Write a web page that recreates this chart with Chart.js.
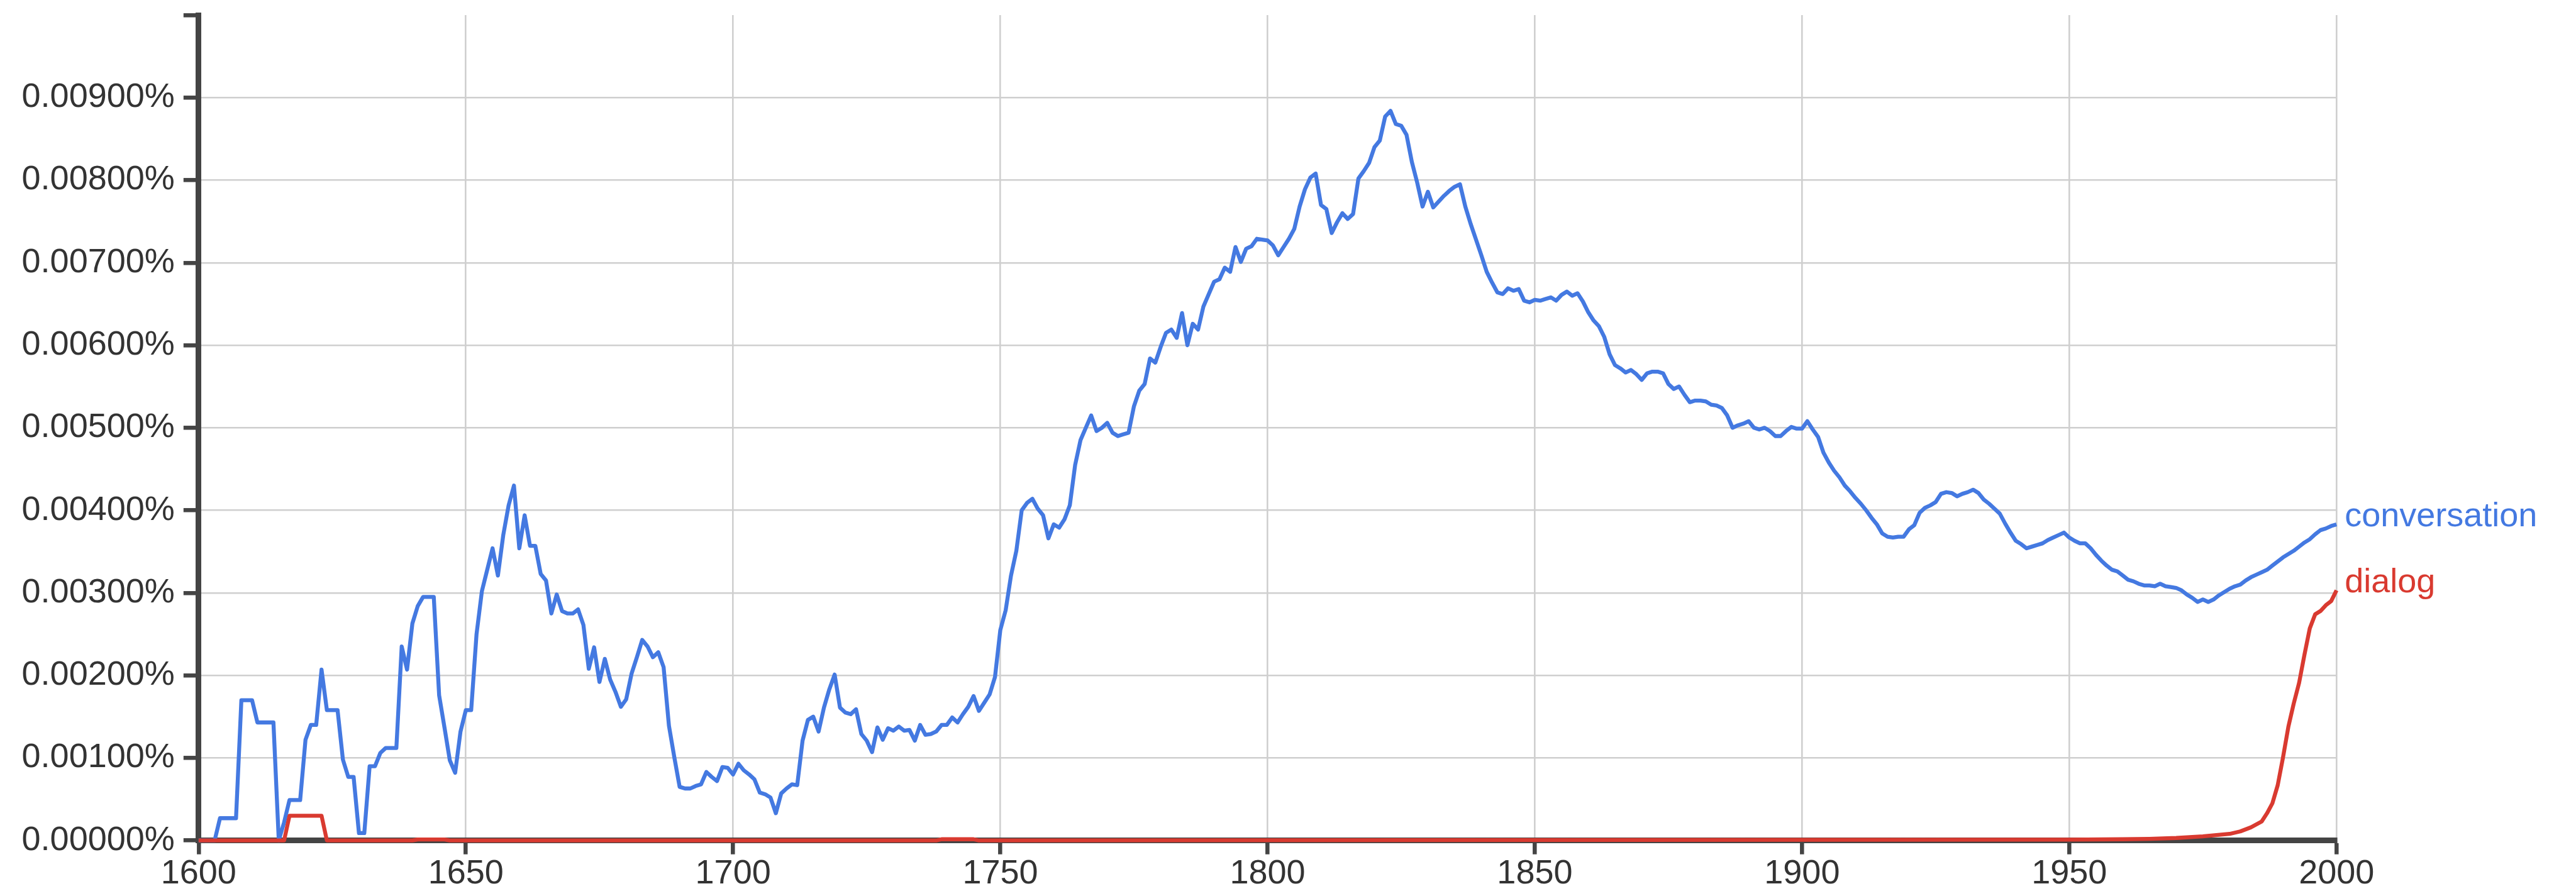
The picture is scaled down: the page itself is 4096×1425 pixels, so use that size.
<!DOCTYPE html>
<html>
<head>
<meta charset="utf-8">
<script src="https://cdn.jsdelivr.net/npm/chart.js@4.4.1/dist/chart.umd.min.js"></script>
<style>
  html, body { margin: 0; padding: 0; background: #ffffff; overflow: hidden; }
  canvas { display: block; }
</style>
</head>
<body>
<canvas id="chart" width="4096" height="1425"></canvas>
<script>
// ---------------- data ----------------
const firstYear = 1600;
const lastYear = 2000;
const conversationYears = [];
for (let y = firstYear; y <= lastYear; y++) conversationYears.push(y);

// yearly values, in percent, 1600 .. 2000
const conversationValues = [
  0, 0, 0, 0, 0.00027, 0.00027, 0.00027, 0.00027, 0.00170, 0.00170,
  0.00170, 0.00143, 0.00143, 0.00143, 0.00143, 0, 0.00022, 0.00049, 0.00049, 0.00049,
  0.00122, 0.00140, 0.00140, 0.00207, 0.00158, 0.00158, 0.00158, 0.00098, 0.00077, 0.00077,
  0.00009, 0.00009, 0.00090, 0.00090, 0.00106, 0.00112, 0.00112, 0.00112, 0.00235, 0.00207,
  0.00263, 0.00284, 0.00295, 0.00295, 0.00295, 0.00176, 0.00137, 0.00097, 0.00082, 0.00132,
  0.00158, 0.00158, 0.00250, 0.00302, 0.00328, 0.00354, 0.00321, 0.00370, 0.00406, 0.00430,
  0.00354, 0.00394, 0.00357, 0.00357, 0.00323, 0.00315, 0.00275, 0.00298, 0.00278, 0.00275,
  0.00275, 0.00280, 0.00261, 0.00208, 0.00234, 0.00192, 0.00220, 0.00195, 0.00180, 0.00162,
  0.00171, 0.00202, 0.00222, 0.00243, 0.00235, 0.00222, 0.00228, 0.00210, 0.00139, 0.00101,
  0.00065, 0.00063, 0.00063, 0.00066, 0.00068, 0.00083, 0.00077, 0.00072, 0.00089, 0.00088,
  0.00080, 0.00093, 0.00085, 0.00080, 0.00074, 0.00058, 0.00056, 0.00052, 0.00033, 0.00057,
  0.00063, 0.00068, 0.00067, 0.00121, 0.00146, 0.00150, 0.00132, 0.00161, 0.00183, 0.00201,
  0.00161, 0.00155, 0.00153, 0.00159, 0.00129, 0.00121, 0.00107, 0.00137, 0.00122, 0.00136,
  0.00133, 0.00138, 0.00133, 0.00134, 0.00121, 0.00140, 0.00128, 0.00129, 0.00132, 0.00140,
  0.00140, 0.00149, 0.00143, 0.00153, 0.00162, 0.00175, 0.00157, 0.00167, 0.00177, 0.00198,
  0.00255, 0.00279, 0.00321, 0.00351, 0.00400, 0.00409, 0.00414, 0.00402, 0.00394, 0.00366,
  0.00383, 0.00379, 0.00389, 0.00406, 0.00455, 0.00485, 0.00500, 0.00515, 0.00496, 0.00500,
  0.00506, 0.00494, 0.00490, 0.00492, 0.00494, 0.00526, 0.00545, 0.00553, 0.00584, 0.00579,
  0.00598, 0.00615, 0.00619, 0.00609, 0.00639, 0.00600, 0.00626, 0.00619, 0.00647, 0.00662,
  0.00677, 0.00680, 0.00694, 0.00689, 0.00719, 0.00701, 0.00717, 0.00720, 0.00729, 0.00728,
  0.00727, 0.00721, 0.00709, 0.00719, 0.00729, 0.00741, 0.00768, 0.00789, 0.00803, 0.00808,
  0.00770, 0.00765, 0.00736, 0.00749, 0.00760, 0.00753, 0.00759, 0.00802, 0.00811, 0.00821,
  0.00840, 0.00848, 0.00877, 0.00884, 0.00868, 0.00866, 0.00855, 0.00822, 0.00797, 0.00768,
  0.00786, 0.00767, 0.00774, 0.00781, 0.00787, 0.00792, 0.00795, 0.00768, 0.00747, 0.00728,
  0.00709, 0.00689, 0.00676, 0.00664, 0.00662, 0.00669, 0.00666, 0.00668, 0.00654, 0.00652,
  0.00655, 0.00654, 0.00656, 0.00658, 0.00654, 0.00661, 0.00665, 0.00660, 0.00663, 0.00653,
  0.00640, 0.00630, 0.00623, 0.00610, 0.00589, 0.00576, 0.00572, 0.00567, 0.00570, 0.00565,
  0.00558, 0.00566, 0.00568, 0.00568, 0.00566, 0.00553, 0.00547, 0.00550, 0.00540, 0.00531,
  0.00533, 0.00533, 0.00532, 0.00528, 0.00527, 0.00524, 0.00515, 0.00500, 0.00503, 0.00505,
  0.00508, 0.00500, 0.00498, 0.00500, 0.00496, 0.00490, 0.00490, 0.00496, 0.00501, 0.00499,
  0.00499, 0.00508, 0.00498, 0.00489, 0.00470, 0.00458, 0.00448, 0.00440, 0.00430, 0.00423,
  0.00415, 0.00408, 0.00400, 0.00391, 0.00383, 0.00372, 0.00368, 0.00367, 0.00368, 0.00368,
  0.00377, 0.00382, 0.00397, 0.00403, 0.00406, 0.00410, 0.00420, 0.00422, 0.00421, 0.00417,
  0.00420, 0.00422, 0.00425, 0.00421, 0.00413, 0.00408, 0.00402, 0.00396, 0.00384, 0.00373,
  0.00363, 0.00359, 0.00354, 0.00356, 0.00358, 0.00360, 0.00364, 0.00367, 0.00370, 0.00373,
  0.00367, 0.00363, 0.00360, 0.00360, 0.00354, 0.00346, 0.00339, 0.00333, 0.00328, 0.00326,
  0.00321, 0.00316, 0.00314, 0.00311, 0.00309, 0.00309, 0.00308, 0.00311, 0.00308, 0.00307,
  0.00306, 0.00303, 0.00298, 0.00294, 0.00289, 0.00292, 0.00289, 0.00292, 0.00297, 0.00301,
  0.00305, 0.00308, 0.00310, 0.00315, 0.00319, 0.00322, 0.00325, 0.00328, 0.00333, 0.00338,
  0.00343, 0.00347, 0.00351, 0.00356, 0.00361, 0.00365, 0.00371, 0.00376, 0.00378, 0.00381,
  0.00383
];

// "dialog": values read at the years where the line changes course (percent)
const dialogYears = [
  1600, 1616, 1617, 1623, 1624, 1640, 1641, 1646, 1647, 1738, 1739, 1745, 1746,
  1950, 1960, 1965, 1970, 1975, 1980, 1982, 1984, 1986, 1987, 1988, 1989,
  1990, 1991, 1992, 1993, 1994, 1995, 1996, 1997, 1998, 1999, 2000
];
const dialogValues = [
  0, 0, 0.00030, 0.00030, 0, 0, 0.000012, 0.000012, 0, 0, 0.000015, 0.000015, 0,
  0.00001, 0.000015, 0.00002, 0.00003, 0.00005, 0.00008, 0.00011, 0.00016, 0.00023, 0.00033, 0.00045, 0.00067,
  0.00101, 0.00138, 0.00166, 0.00191, 0.00225, 0.00257, 0.00274, 0.00278, 0.00285, 0.00290, 0.00303
];

const seriesNames = ['conversation', 'dialog'];
const seriesColors = ['#4479e1', '#d93a30'];
const xTickStep = 50;
const yTickStep = 0.001;
const yMax = 0.01;

// ---------------- chart ----------------
const FONT = "'Liberation Sans', Arial, Helvetica, sans-serif";

const endLabels = {
  id: 'endLabels',
  afterDatasetsDraw(chart) {
    const ctx = chart.ctx;
    const area = chart.chartArea;
    ctx.save();
    ctx.font = '54px ' + FONT;
    ctx.textAlign = 'left';
    ctx.textBaseline = 'middle';
    chart.data.datasets.forEach((ds, i) => {
      const meta = chart.getDatasetMeta(i);
      const pt = meta.data[meta.data.length - 1];
      ctx.fillStyle = ds.borderColor;
      ctx.fillText(ds.label, area.right + 13, pt.y - 12);
    });
    ctx.restore();
  }
};

new Chart(document.getElementById('chart'), {
  type: 'line',
  data: {
    datasets: [
      {
        label: seriesNames[1],
        data: dialogYears.map((x, i) => ({ x, y: dialogValues[i] })),
        borderColor: seriesColors[1],
        borderWidth: 6.3,
        pointRadius: 0,
        tension: 0,
        borderJoinStyle: 'round',
        clip: false,
        order: 0
      },
      {
        label: seriesNames[0],
        data: conversationYears.map((x, i) => ({ x, y: conversationValues[i] })),
        borderColor: seriesColors[0],
        borderWidth: 6.3,
        pointRadius: 0,
        tension: 0,
        borderJoinStyle: 'round',
        clip: false,
        order: 1
      }
    ]
  },
  options: {
    responsive: false,
    animation: false,
    events: [],
    layout: { padding: { top: 24, right: 380.8, bottom: 0, left: 0 } },
    plugins: { legend: { display: false }, tooltip: { enabled: false } },
    scales: {
      x: {
        type: 'linear',
        min: firstYear,
        max: lastYear,
        afterFit(scale) { scale.height = 88.3; scale.paddingLeft = 0; scale.paddingRight = 0; },
        afterBuildTicks(scale) {
          const t = [];
          for (let v = firstYear; v <= lastYear; v += xTickStep) t.push({ value: v });
          scale.ticks = t;
        },
        ticks: {
          callback: (v) => String(v),
          color: '#333333',
          font: { family: FONT, size: 54, lineHeight: 1.17 },
          padding: 0,
          maxRotation: 0,
          autoSkip: false
        },
        grid: {
          color: '#cfcfcf',
          lineWidth: 2.6,
          tickColor: '#444444',
          tickWidth: 6.5,
          tickLength: 22,
          drawTicks: true
        },
        border: { display: true, color: '#444444', width: 9 }
      },
      y: {
        type: 'linear',
        min: 0,
        max: yMax,
        afterFit(scale) { scale.width = 315.8; scale.paddingTop = 0; scale.paddingBottom = 0; },
        ticks: {
          stepSize: yTickStep,
          callback: (v) => (v > yMax - yTickStep / 2 ? '' : v.toFixed(5) + '%'),
          color: '#333333',
          font: { family: FONT, size: 54 },
          padding: 14,
          autoSkip: false
        },
        grid: {
          color: (c) => (c.tick && c.tick.value > yMax - yTickStep / 2 ? 'rgba(0,0,0,0)' : '#cfcfcf'),
          lineWidth: 2.6,
          tickColor: '#444444',
          tickWidth: 6.5,
          tickLength: 24,
          drawTicks: true
        },
        border: { display: true, color: '#444444', width: 9 }
      }
    }
  },
  plugins: [endLabels]
});
</script>
</body>
</html>
